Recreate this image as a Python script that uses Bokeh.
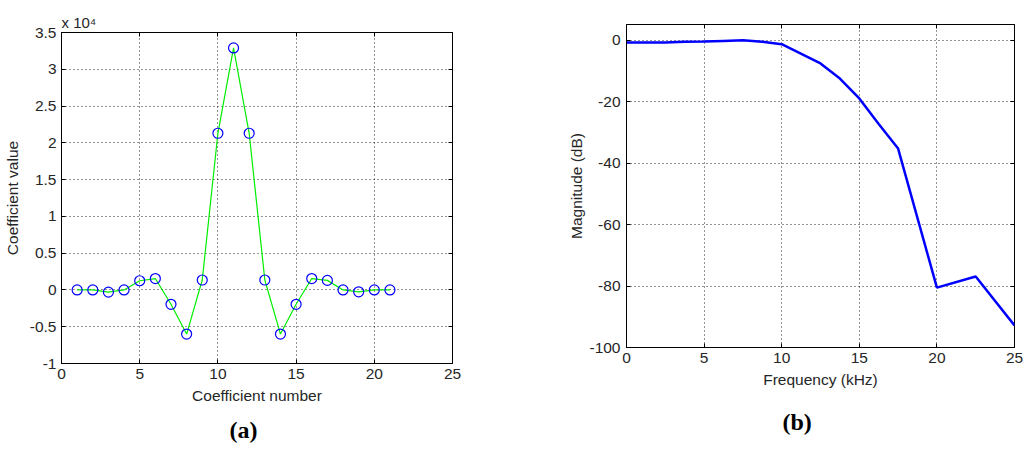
from bokeh.plotting import figure
from bokeh.layouts import row, column
from bokeh.models import Range1d, FixedTicker, LinearAxis, Title, CustomJSTickFormatter
from bokeh.embed import file_html
from bokeh.resources import INLINE

# ---- data (a): filter coefficients ----
coef_number = list(range(1, 22))
coef_value = [0, 0, -300, 0, 1250, 1550, -1950, -6000, 1350, 21300, 32900,
              21300, 1350, -6000, -1950, 1550, 1300, 0, -250, 0, 0]
coef_scale = 1e4
coef_x_ticks = [0, 5, 10, 15, 20, 25]
coef_y_ticks = [-1, -0.5, 0, 0.5, 1, 1.5, 2, 2.5, 3, 3.5]

# ---- data (b): magnitude response ----
freq_khz = [0, 2.5, 3.75, 5, 6.25, 7.5, 8.75, 10, 12.5, 13.75, 15, 16.25,
            17.5, 20, 22.5, 25]
mag_db = [-0.65, -0.65, -0.45, -0.35, -0.15, 0.05, -0.4, -1.2, -7.5, -12.4, -18.9,
          -27.2, -35.2, -80.5, -76.9, -92.8]
freq_ticks = [0, 5, 10, 15, 20, 25]
mag_ticks = [-100, -80, -60, -40, -20, 0]

FONT = "Liberation Sans"
FS = "15.5px"
TXT = "#262626"
fmt = CustomJSTickFormatter(code="return tick.toString();")


def style(p, xt, yt):
    p.outline_line_color = "black"
    p.outline_line_width = 1
    p.background_fill_color = "white"
    p.border_fill_color = "white"
    for ax in list(p.xaxis) + list(p.yaxis):
        ax.major_label_text_font = FONT
        ax.major_label_text_font_size = FS
        ax.major_label_text_color = TXT
        ax.axis_label_text_font = FONT
        ax.axis_label_text_font_size = FS
        ax.axis_label_text_font_style = "normal"
        ax.axis_label_text_color = TXT
        ax.axis_line_color = "black"
        ax.major_tick_in = 4
        ax.major_tick_out = 0
        ax.major_tick_line_color = "black"
        ax.minor_tick_line_color = None
        ax.formatter = fmt
    p.xaxis.ticker = FixedTicker(ticks=xt)
    p.yaxis.ticker = FixedTicker(ticks=yt)
    p.xgrid.ticker = FixedTicker(ticks=xt)
    p.ygrid.ticker = FixedTicker(ticks=yt)
    for g in (p.xgrid, p.ygrid):
        g.grid_line_color = "black"
        g.grid_line_dash = "1 3"
        g.grid_line_width = 1
        g.grid_line_alpha = 0.85
    top = LinearAxis(ticker=FixedTicker(ticks=xt), major_label_text_font_size="0px",
                     major_tick_in=4, major_tick_out=0, minor_tick_line_color=None,
                     axis_line_color=None, major_label_standoff=0)
    right = LinearAxis(ticker=FixedTicker(ticks=yt), major_label_text_font_size="0px",
                       major_tick_in=4, major_tick_out=0, minor_tick_line_color=None,
                       axis_line_color=None, major_label_standoff=0)
    p.add_layout(top, "above")
    p.add_layout(right, "right")


# ---------- left figure ----------
p1 = figure(width=512, height=451, output_backend="svg", toolbar_location=None,
            x_range=Range1d(0, 25), y_range=Range1d(-1, 3.5),
            min_border_left=60, min_border_right=60, min_border_top=32,
            min_border_bottom=88)
yv = [v / coef_scale for v in coef_value]
p1.line(coef_number, yv, line_color="#00ee00", line_width=1.2)
p1.scatter(coef_number, yv, marker="circle", size=10, fill_color=None,
           line_color="#0000ff", line_width=1.2)
p1.xaxis.axis_label = "Coefficient number"
p1.yaxis.axis_label = "Coefficient value"
style(p1, coef_x_ticks, coef_y_ticks)
p1.xaxis[0].major_label_standoff = 6
p1.xaxis[0].axis_label_standoff = 4
p1.yaxis[0].major_label_standoff = 5
p1.yaxis[0].axis_label_standoff = 6

p1.add_layout(Title(text="x 10\u2074", align="left", offset=0, standoff=3,
                    text_font=FONT, text_font_size="15px", text_font_style="normal",
                    text_color=TXT), "above")
p1.add_layout(Title(text="(a)", align="left", offset=168, standoff=16,
                    text_font="Liberation Serif", text_font_size="24px",
                    text_font_style="bold", text_color="black"), "below")

# ---------- right figure ----------
p2 = figure(width=512, height=451, output_backend="svg", toolbar_location=None,
            x_range=Range1d(0, 25), y_range=Range1d(-100, 5.2),
            min_border_left=114, min_border_right=10, min_border_top=24,
            min_border_bottom=103)
p2.line(freq_khz, mag_db, line_color="#0000ff", line_width=2.5)
p2.xaxis.axis_label = "Frequency (kHz)"
p2.yaxis.axis_label = "Magnitude (dB)"
style(p2, freq_ticks, mag_ticks)
p2.xaxis[0].major_label_standoff = 5
p2.xaxis[0].axis_label_standoff = 3
p2.yaxis[0].major_label_standoff = 6
p2.yaxis[0].axis_label_standoff = 1
p2.add_layout(Title(text="(b)", align="left", offset=156, standoff=33,
                    text_font="Liberation Serif", text_font_size="24px",
                    text_font_style="bold", text_color="black"), "below")

layout = row(column(p1), column(p2))
open("out.html", "w").write(file_html(layout, INLINE))
